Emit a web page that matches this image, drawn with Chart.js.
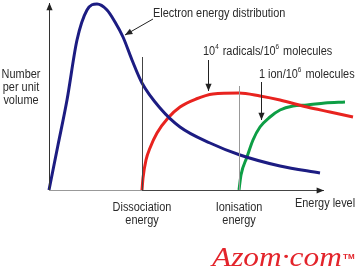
<!DOCTYPE html>
<html>
<head>
<meta charset="utf-8">
<script src="https://cdn.jsdelivr.net/npm/chart.js@4"></script>
<style>
  html, body { margin: 0; padding: 0; background: #fff; }
  #wrap { width: 358px; height: 279px; }
</style>
</head>
<body>
<div id="wrap"><canvas id="chart" width="358" height="279"></canvas></div>
<script>
// energia (unidades arbitrarias) y numero por unidad de volumen
const electronX = [0, 9, 18, 28, 38, 48, 58, 66, 74, 83, 93, 111, 131, 161, 191, 231, 271];
const electronY = [0, 45, 90, 150, 180, 186, 180, 168, 153, 130, 107, 82, 63, 47, 35, 24, 17];

const radicalX = [93, 94, 97, 101, 108, 119, 131, 147, 164, 190, 211, 231, 258, 281, 304];
const radicalY = [0, 12, 30, 42, 57, 72, 83, 91, 96, 97, 94, 90, 83, 78, 73];

const ionX = [190, 192, 198, 204, 211, 221, 231, 244, 258, 276, 296];
const ionY = [0, 15, 33, 50, 63, 73, 80, 84, 85, 87, 88];

const dissociationEnergy = 93;
const ionisationEnergy = 190;
const dissociationTop = 133;
const ionisationTop = 104;

const pts = (xs, ys) => xs.map((x, i) => ({ x: x, y: ys[i] }));

const FONT = '12px "Liberation Sans", Arial, sans-serif';
const SUP = '7px "Liberation Sans", Arial, sans-serif';
const SQUEEZE = 0.91;

// Dibujar ejes, flechas y textos
const annotations = {
    id: 'annotations',
    afterDatasetsDraw(chart) {
        const c = chart.ctx;
        const sx = chart.scales.x;
        const sy = chart.scales.y;
        const x0 = sx.getPixelForValue(0);
        const y0 = sy.getPixelForValue(0);
        const xd = sx.getPixelForValue(dissociationEnergy);
        const xi = sx.getPixelForValue(ionisationEnergy);

        function arrowHead(x, y, ang, size) {
            c.beginPath();
            c.moveTo(x, y);
            c.lineTo(x - size * Math.cos(ang - 0.4), y - size * Math.sin(ang - 0.4));
            c.lineTo(x - size * Math.cos(ang + 0.4), y - size * Math.sin(ang + 0.4));
            c.closePath();
            c.fill();
        }
        function arrow(x1, y1, x2, y2) {
            c.beginPath();
            c.moveTo(x1, y1);
            c.lineTo(x2, y2);
            c.stroke();
            arrowHead(x2, y2, Math.atan2(y2 - y1, x2 - x1), 8);
        }
        function text(t, x, y, align, font, sq) {
            c.save();
            c.font = font || FONT;
            c.textAlign = align || 'left';
            c.translate(x, y);
            c.scale(sq || SQUEEZE, 1);
            c.fillText(t, 0, 0);
            const w = c.measureText(t).width * (sq || SQUEEZE);
            c.restore();
            return w;
        }

        c.save();
        c.lineWidth = 1;
        // vertical lines
        c.strokeStyle = '#444';
        c.beginPath();
        c.moveTo(xd + 0.5, sy.getPixelForValue(dissociationTop));
        c.lineTo(xd + 0.5, y0);
        c.stroke();
        c.strokeStyle = '#999';
        c.beginPath();
        c.moveTo(xi + 0.5, sy.getPixelForValue(ionisationTop));
        c.lineTo(xi + 0.5, y0);
        c.stroke();

        // axes
        c.strokeStyle = '#333';
        c.fillStyle = '#222';
        arrow(x0 + 0.5, y0, x0 + 0.5, 3);
        c.strokeStyle = '#999';
        c.beginPath();
        c.moveTo(x0, y0 + 0.5);
        c.lineTo(xd, y0 + 0.5);
        c.stroke();
        c.strokeStyle = '#444';
        arrow(xd, y0 + 0.5, 324, y0 + 0.5);

        // pointer arrows
        c.strokeStyle = '#222';
        arrow(153, 19, 125, 35);
        arrow(208.5, 60, 208.5, 91);
        arrow(261.5, 82, 261.5, 120);

        // texts
        c.fillStyle = '#2a2a2a';
        text('Electron energy distribution', 153, 17);

        function supText(parts, x, y) {
            let cx = x;
            parts.forEach(p => {
                cx += text(p.t, cx, p.sup ? y - 6 : y, 'left', p.sup ? SUP : FONT) + (p.sup ? 1 : 0);
            });
        }
        supText([{ t: '10' }, { t: '4', sup: true }, { t: ' radicals/10' }, { t: '6', sup: true }, { t: ' molecules' }], 203, 55);
        supText([{ t: '1 ion/10' }, { t: '6', sup: true }, { t: ' molecules' }], 259, 78);

        text('Number', 21, 78, 'center');
        text('per unit', 21, 91, 'center');
        text('volume', 21, 104, 'center');
        text('Dissociation', xd, 211, 'center');
        text('energy', xd, 224, 'center');
        text('Ionisation', xi, 211, 'center');
        text('energy', xi, 224, 'center');
        text('Energy level', 295, 207);

        // logo
        c.fillStyle = '#e3242b';
        text('Azom\u00b7com', 212, 266, 'left', 'italic 28px "Liberation Serif", "DejaVu Serif", serif', 1.12);
        text('TM', 343, 259, 'left', 'bold 8px "Liberation Sans", Arial, sans-serif', 1);
        c.restore();
    }
};

const chart = new Chart(document.getElementById('chart'), {
    type: 'line',
    data: {
        datasets: [
            {
                label: 'Electron energy distribution',
                data: pts(electronX, electronY),
                borderColor: '#1c1c82',
                borderWidth: 3
            },
            {
                label: 'Radicals',
                data: pts(radicalX, radicalY),
                borderColor: '#e8231f',
                borderWidth: 3
            },
            {
                label: 'Ions',
                data: pts(ionX, ionY),
                borderColor: '#0d9e45',
                borderWidth: 3
            }
        ]
    },
    options: {
        responsive: false,
        animation: false,
        clip: false,
        layout: { padding: { left: 49, right: 3, top: 3, bottom: 89 } },
        elements: {
            point: { radius: 0 },
            line: { cubicInterpolationMode: 'monotone', fill: false }
        },
        scales: {
            x: { type: 'linear', min: 0, max: 306, display: false },
            y: { min: 0, max: 187, display: false }
        },
        plugins: {
            legend: { display: false },
            tooltip: { enabled: false }
        }
    },
    plugins: [annotations]
});
</script>
</body>
</html>
